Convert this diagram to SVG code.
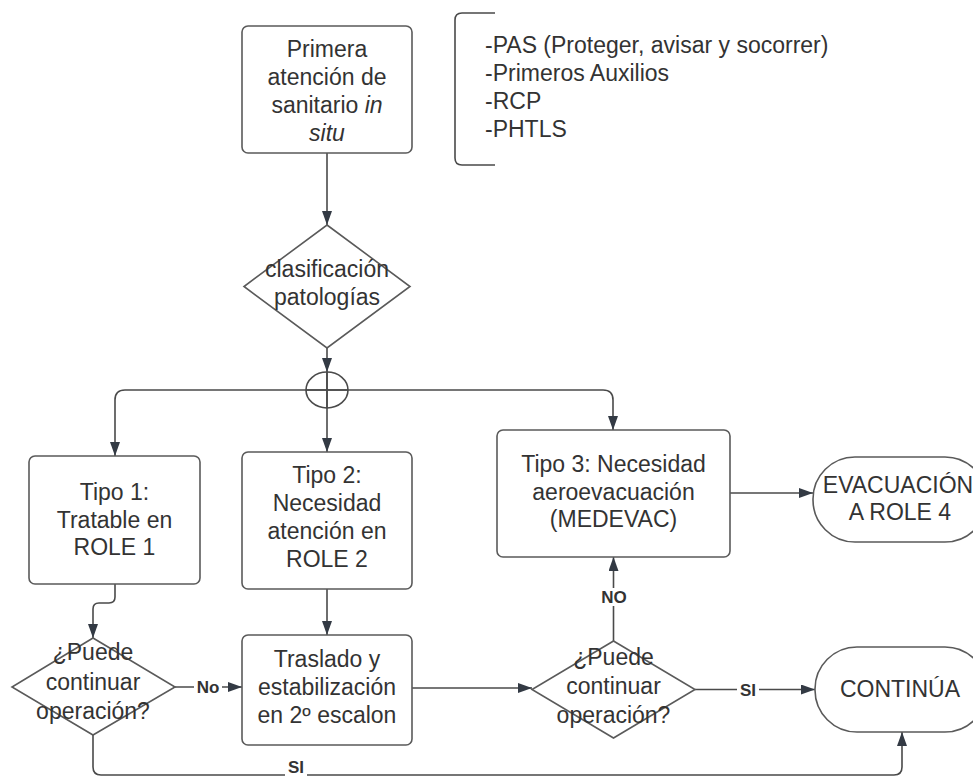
<svg xmlns="http://www.w3.org/2000/svg" width="973" height="778" viewBox="0 0 973 778">
<defs>
<marker id="arr" viewBox="0 0 14 10" refX="14" refY="5" markerWidth="14" markerHeight="10" markerUnits="userSpaceOnUse" orient="auto">
<path d="M0,0 L14,5 L0,10 z" fill="#333a44"/>
</marker>
<style>
.shape{fill:#ffffff;stroke:#5a5a5a;stroke-width:1.6}
.t{font-family:"Liberation Sans",Arial,sans-serif;font-size:23px;fill:#333333;text-anchor:middle}
.tl{font-family:"Liberation Sans",Arial,sans-serif;font-size:23px;fill:#333333}
.lbl{font-family:"Liberation Sans",Arial,sans-serif;font-size:17px;font-weight:bold;fill:#333333;text-anchor:middle}
.c{fill:none;stroke:#4a4a4a;stroke-width:1.6}
.ca{fill:none;stroke:#4a4a4a;stroke-width:1.6;marker-end:url(#arr)}
.bg{fill:#ffffff;stroke:none}
</style>
</defs>
<rect width="973" height="778" fill="#ffffff"/>

<g id="connectors">
<path class="ca" d="M327 153 V225"/>
<path class="ca" d="M327 348 V372"/>
<path class="c" d="M327 372 V408"/>
<path class="ca" d="M327 408 V452"/>
<path class="ca" d="M306 390 H125 Q115 390 115 400 V456"/>
<path class="c" d="M306 390 H348"/>
<path class="ca" d="M348 390 H603 Q613 390 613 400 V430"/>
<path class="ca" d="M115 584 V597 Q115 603 109 603 H99 Q93 603 93 609 V638"/>
<path class="ca" d="M175 687 H242"/>
<path class="ca" d="M93 735 V767 Q93 775 101 775 H894 Q902 775 902 767 V732"/>
<path class="ca" d="M327 589 V635"/>
<path class="ca" d="M412 688 H532"/>
<path class="ca" d="M613.5 641 V557"/>
<path class="ca" d="M695 689.5 H815"/>
<path class="ca" d="M730 493 H813"/>
<rect class="bg" x="194" y="678" width="28" height="18"/>
<text class="lbl" x="208" y="693">No</text>
<rect class="bg" x="285" y="764" width="22" height="13"/>
<text class="lbl" x="296" y="773" font-size="13">SI</text>
<rect class="bg" x="598" y="588" width="32" height="18"/>
<text class="lbl" x="614" y="603">NO</text>
<rect class="bg" x="737" y="681" width="22" height="18"/>
<text class="lbl" x="748" y="695.5">SI</text>
</g>

<g id="bracket">
<path class="c" d="M495 13 H462 Q455 13 455 20 V158 Q455 165 462 165 H495"/>
<text class="tl" x="485" y="53">-PAS (Proteger, avisar y socorrer)</text>
<text class="tl" x="485" y="81">-Primeros Auxilios</text>
<text class="tl" x="485" y="109">-RCP</text>
<text class="tl" x="485" y="137">-PHTLS</text>
</g>

<g id="primera">
<rect class="shape" x="242" y="26" width="170" height="127" rx="6"/>
<text class="t" x="327" y="57">Primera</text>
<text class="t" x="327" y="85">atención de</text>
<text class="t" x="327" y="113">sanitario <tspan font-style="italic">in</tspan></text>
<text class="t" x="327" y="141" font-style="italic">situ</text>
</g>

<g id="clasificacion">
<polygon class="shape" points="327,225 410,286.5 327,348 244,286.5"/>
<text class="t" x="327" y="277">clasificación</text>
<text class="t" x="327" y="305">patologías</text>
</g>

<g id="junction">
<ellipse cx="327" cy="390" rx="21" ry="18" fill="none" stroke="#4a4a4a" stroke-width="1.6"/>
<path class="c" d="M327 372 V408 M306 390 H348"/>
</g>

<g id="tipo1">
<rect class="shape" x="29" y="456" width="171" height="128" rx="6"/>
<text class="t" x="114.5" y="500">Tipo 1:</text>
<text class="t" x="114.5" y="528">Tratable en</text>
<text class="t" x="114.5" y="555">ROLE 1</text>
</g>

<g id="tipo2">
<rect class="shape" x="242" y="452" width="170" height="137" rx="6"/>
<text class="t" x="327" y="483">Tipo 2:</text>
<text class="t" x="327" y="511">Necesidad</text>
<text class="t" x="327" y="539">atención en</text>
<text class="t" x="327" y="567">ROLE 2</text>
</g>

<g id="tipo3">
<rect class="shape" x="497" y="430" width="233" height="127" rx="6"/>
<text class="t" x="613.5" y="472">Tipo 3: Necesidad</text>
<text class="t" x="613.5" y="500">aeroevacuación</text>
<text class="t" x="613.5" y="527">(MEDEVAC)</text>
</g>

<g id="evacuacion">
<rect class="shape" x="813" y="457" width="174" height="85" rx="42"/>
<text class="t" x="898" y="493" font-size="22">EVACUACIÓN</text>
<text class="t" x="900" y="520">A ROLE 4</text>
</g>

<g id="traslado">
<rect class="shape" x="242" y="635" width="170" height="110" rx="6"/>
<text class="t" x="327" y="667">Traslado y</text>
<text class="t" x="327" y="695">estabilización</text>
<text class="t" x="327" y="723">en 2º escalon</text>
</g>

<g id="decision1">
<polygon class="shape" points="93,638 175,687 93,735 12,687"/>
<text class="t" x="93" y="660">¿Puede</text>
<text class="t" x="93" y="690">continuar</text>
<text class="t" x="93" y="719">operación?</text>
</g>

<g id="decision2">
<polygon class="shape" points="613.5,641 695,689.5 613.5,738 532,689.5"/>
<text class="t" x="613.5" y="665">¿Puede</text>
<text class="t" x="613.5" y="694">continuar</text>
<text class="t" x="613.5" y="723">operación?</text>
</g>

<g id="continua">
<rect class="shape" x="815" y="647" width="172" height="85" rx="42"/>
<text class="t" x="900" y="697">CONTINÚA</text>
</g>
</svg>
